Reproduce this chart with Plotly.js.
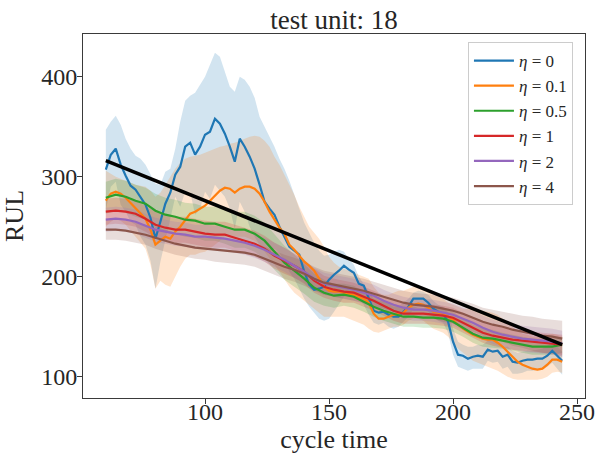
<!DOCTYPE html>
<html>
<head>
<meta charset="utf-8">
<script src="https://cdn.plot.ly/plotly-3.0.1.min.js"></script>
<style>
  html, body { margin: 0; padding: 0; background: #ffffff; }
  #chart { width: 600px; height: 454px; }
</style>
</head>
<body>
<div id="chart"></div>
<script>
// Cycle grids (fine grid for the noisy predictors, coarse grid for the smooth ones)
var cyclesFine = [60,62,64,66,68,70,72,74,76,78,80,82,84,86,88,90,92,94,96,98,
  100,102,104,106,108,110,112,114,116,118,120,122,124,126,128,130,132,134,136,138,
  140,142,144,146,148,150,152,154,156,158,160,162,164,166,168,170,172,174,176,178,
  180,182,184,186,188,190,192,194,196,198,200,202,204,206,208,210,212,214,216,218,
  220,222,224,226,228,230,232,234,236,238,240,242,244];
var cyclesCoarse = [60,64,68,72,76,80,84,88,92,96,100,104,108,112,116,120,124,128,132,136,
  140,144,148,152,156,160,164,168,172,176,180,184,188,192,196,200,204,208,212,216,
  220,224,228,232,236,240,244];

// eta = 0 : mean prediction with its lower / upper envelope
var eta0Mean = [307,322,328,312,301,291,287,279,272,259,238,255,273,284,302,310,330,334,322,330,
  342,345,358,353,343,330,315,338,330,320,308,292,275,268,262,250,240,230,226,222,
  205,192,187,188,190,197,202,206,211,207,204,193,191,178,166,164,165,162,160,160,
  165,170,178,178,178,174,168,165,163,155,135,122,121,118,120,121,120,127,125,126,
  120,122,115,114,116,117,117,118,118,121,126,121,116];
var eta0Low = [267,290,295,272,265,255,252,240,232,216,188,215,238,258,280,270,285,285,262,268,
  285,278,292,286,280,268,248,275,265,250,240,232,228,225,228,224,215,205,198,188,
  178,170,164,158,156,158,165,172,180,182,180,178,172,162,154,152,154,150,148,150,
  155,160,168,170,170,165,160,156,154,144,122,110,108,106,108,108,108,116,114,115,
  108,110,103,103,104,106,106,107,107,110,114,108,102];
var eta0High = [347,355,361,352,338,328,321,318,312,302,293,292,305,308,328,355,376,381,384,392,
  400,412,424,420,406,390,385,400,397,390,379,360,350,340,330,318,308,296,282,266,
  254,244,234,226,221,222,225,227,225,218,212,200,193,186,178,176,175,173,170,170,
  174,178,184,186,185,182,176,172,170,164,148,135,132,130,130,132,132,136,136,135,
  130,130,126,124,125,126,126,127,128,131,135,130,125];

// eta = 0.1
var eta01Mean = [276,283,285,283,279,274,268,263,258,247,232,236,240,238,245,250,256,263,265,268,
  271,276,281,286,289,288,284,288,290,290,288,283,275,265,257,249,243,232,227,221,
  215,211,206,198,190,186,185,185,184,183,182,180,178,174,163,158,158,160,162,163,
  164,169,172,173,172,169,165,164,163,160,157,152,148,145,142,140,138,137,137,134,
  130,125,120,115,112,110,108,107,108,112,117,117,115];
var eta01Low = [250,255,258,256,252,246,240,234,228,212,188,196,192,190,200,210,218,222,222,224,
  225,228,232,236,240,242,240,240,240,238,236,232,225,218,212,205,198,190,184,180,
  176,172,168,164,160,160,160,160,160,158,156,154,152,148,145,144,146,148,150,150,
  152,156,158,158,156,152,148,146,144,140,134,128,124,120,116,114,112,110,108,106,
  103,100,98,97,97,97,97,97,98,100,104,105,104];
var eta01High = [306,303,300,298,296,294,292,291,290,286,280,284,292,300,308,314,318,320,321,322,
  324,326,328,330,331,333,334,336,338,340,341,340,336,330,320,312,302,292,282,270,
  260,250,244,238,230,220,214,210,208,206,204,202,200,198,190,184,182,182,184,186,
  186,188,190,190,188,186,182,180,178,174,172,170,168,168,168,167,166,165,164,162,
  158,154,150,146,143,142,140,140,141,142,143,142,140];

// eta = 0.5, 1, 2, 4 : mean and standard deviation on the coarse grid
var eta05Mean = [279,282,280,276,273,266,262,260,257,256,253,253,250,247,247,243,236,225,214,206,
  198,189,184,181,182,180,175,170,166,163,160,160,159,159,158,155,149,143,139,138,
  136,134,132,130,130,130,132];
var eta05Std = [16,16,16,16,16,17,17,17,17,17,17,17,17,18,18,18,18,18,17,16,
  15,14,13,12,11,11,10,10,10,10,10,10,10,10,10,10,9,9,9,9,
  8,8,8,8,8,8,8];
var eta1Mean = [265,266,265,263,258,252,249,247,247,245,243,242,242,239,236,233,228,221,216,211,
  205,196,190,187,185,184,180,176,171,166,163,163,163,162,161,159,154,149,144,141,
  139,137,136,135,134,133,132];
var eta1Std = [13,13,13,13,13,13,13,13,13,13,13,13,13,13,13,13,13,13,13,12,
  12,12,11,11,11,10,10,10,10,10,10,10,10,10,10,10,10,10,10,10,
  10,10,10,10,10,10,10];
var eta2Mean = [257,258,257,255,251,247,245,243,242,240,240,239,238,236,234,231,227,222,217,211,
  205,198,193,191,189,187,184,181,176,172,169,167,167,166,164,162,158,154,149,145,
  142,140,138,137,136,135,133];
var eta2Std = [12,12,12,12,12,12,12,12,12,12,12,12,12,12,12,12,12,12,12,12,
  11,11,11,11,11,11,11,11,11,11,11,11,11,11,11,11,11,12,12,12,
  12,13,13,13,13,13,13];
var eta4Mean = [247,247,246,244,242,239,236,233,231,229,228,227,226,225,224,222,218,214,210,207,
  203,198,194,192,190,188,186,183,180,177,174,172,171,170,168,166,163,159,155,152,
  150,147,145,143,141,140,138];
var eta4Std = [10,10,10,10,10,11,11,11,11,11,11,12,12,12,12,12,12,12,12,12,
  12,12,12,12,12,12,12,12,12,12,12,12,12,12,13,13,13,14,14,15,
  15,16,16,17,17,17,18];

// True remaining useful life
var trueCycles = [60, 244];
var trueRul = [316, 132];

var legendNames = ['<i>η</i> = 0', '<i>η</i> = 0.1', '<i>η</i> = 0.5', '<i>η</i> = 1', '<i>η</i> = 2', '<i>η</i> = 4'];
var colors = ['31,119,180', '255,127,14', '44,160,44', '214,39,40', '148,103,189', '140,86,75'];

var FONT = '"Liberation Serif", "DejaVu Serif", serif';

function band(x, lo, hi, rgb) {
  var xs = x.concat(x.slice().reverse());
  var ys = hi.concat(lo.slice().reverse());
  return {
    x: xs, y: ys, type: 'scatter', mode: 'lines', fill: 'toself',
    fillcolor: 'rgba(' + rgb + ',0.2)', line: {width: 0}, hoverinfo: 'skip', showlegend: false
  };
}
function minus(m, s) { return m.map(function (v, i) { return v - s[i]; }); }
function plus(m, s) { return m.map(function (v, i) { return v + s[i]; }); }

var series = [
  {x: cyclesFine, mean: eta0Mean, lo: eta0Low, hi: eta0High},
  {x: cyclesFine, mean: eta01Mean, lo: eta01Low, hi: eta01High},
  {x: cyclesCoarse, mean: eta05Mean, lo: minus(eta05Mean, eta05Std), hi: plus(eta05Mean, eta05Std)},
  {x: cyclesCoarse, mean: eta1Mean, lo: minus(eta1Mean, eta1Std), hi: plus(eta1Mean, eta1Std)},
  {x: cyclesCoarse, mean: eta2Mean, lo: minus(eta2Mean, eta2Std), hi: plus(eta2Mean, eta2Std)},
  {x: cyclesCoarse, mean: eta4Mean, lo: minus(eta4Mean, eta4Std), hi: plus(eta4Mean, eta4Std)}
];

var traces = [];
series.forEach(function (s, i) { traces.push(band(s.x, s.lo, s.hi, colors[i])); });
series.forEach(function (s, i) {
  traces.push({
    x: s.x, y: s.mean, type: 'scatter', mode: 'lines', name: legendNames[i],
    line: {color: 'rgb(' + colors[i] + ')', width: 2.2}
  });
});
traces.push({
  x: trueCycles, y: trueRul, type: 'scatter', mode: 'lines', showlegend: false,
  line: {color: '#000000', width: 3.5}
});

var axisCommon = {
  showgrid: false, zeroline: false, showline: true, mirror: true,
  linecolor: '#3a3a3a', linewidth: 1, ticks: 'outside', ticklen: 5, tickwidth: 1,
  tickcolor: '#3a3a3a', tickfont: {family: FONT, size: 24, color: '#262626'}
};

var layout = {
  width: 600, height: 454,
  margin: {l: 83, r: 15, t: 34, b: 56},
  paper_bgcolor: '#ffffff', plot_bgcolor: '#ffffff',
  font: {family: FONT, color: '#262626'},
  title: {text: 'test unit: 18', font: {family: FONT, size: 27, color: '#262626'},
          x: 0.5, xref: 'paper', y: 0.956, yref: 'container', yanchor: 'middle'},
  xaxis: Object.assign({}, axisCommon, {
    range: [50.8, 253.2], tickvals: [100, 150, 200, 250], ticklabelstandoff: -13,
    title: {text: 'cycle time', font: {family: FONT, size: 26, color: '#262626'}, standoff: 4}
  }),
  yaxis: Object.assign({}, axisCommon, {
    range: [78.7, 442.7], tickvals: [100, 200, 300, 400], ticklabelstandoff: -5,
    title: {text: 'RUL', font: {family: FONT, size: 26, color: '#262626'}, standoff: 10}
  }),
  legend: {
    x: 0.976, y: 0.978, xanchor: 'right', yanchor: 'top', itemwidth: 40,
    bgcolor: 'rgba(255,255,255,0.8)', bordercolor: '#cccccc', borderwidth: 1,
    font: {family: FONT, size: 17, color: '#262626'}
  },
  showlegend: true
};

Plotly.newPlot('chart', traces, layout, {staticPlot: true, displayModeBar: false});
</script>
</body>
</html>
